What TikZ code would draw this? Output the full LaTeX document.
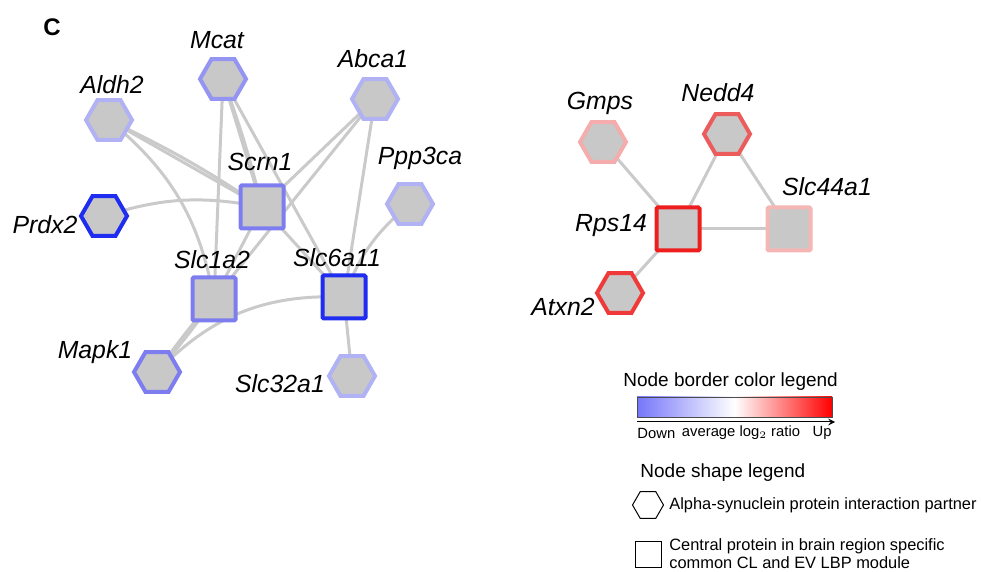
\documentclass[tikz,border=0pt]{standalone}
\usepackage{fontspec}
\setmainfont{Liberation Sans}
\usetikzlibrary{shapes.geometric,backgrounds}
\definecolor{dblue}{RGB}{30,45,240}
\definecolor{mblue}{RGB}{125,125,240}
\definecolor{mlblue}{RGB}{148,148,242}
\definecolor{lblue}{RGB}{176,178,243}
\definecolor{dred}{RGB}{238,30,30}
\definecolor{mred}{RGB}{240,58,58}
\definecolor{nred}{RGB}{236,92,92}
\definecolor{lred}{RGB}{245,172,172}
\definecolor{llred}{RGB}{245,182,182}
\definecolor{nodegray}{RGB}{200,200,200}
\definecolor{edgegray}{RGB}{202,202,202}
\definecolor{barblue}{RGB}{118,118,250}
\begin{document}
\begin{tikzpicture}[>=stealth,x=0.5pt,y=-0.5pt,
	hex/.style={regular polygon,regular polygon sides=6,minimum size=23pt,inner sep=0pt,fill=nodegray,line width=2pt},
	sq/.style={rectangle,minimum size=21.5pt,inner sep=0pt,fill=nodegray,line width=2pt,rounded corners=0.6pt},
	edge/.style={edgegray,line width=1.5pt},
	lab/.style={font=\fontsize{12.4}{14}\selectfont\itshape,inner sep=0pt},
	legtitle/.style={font=\fontsize{9.5}{11}\selectfont,anchor=west,inner sep=0pt},
	legtext/.style={font=\fontsize{8.2}{9}\selectfont,anchor=west,inner sep=0pt,align=left}]
	\useasboundingbox (0,0) rectangle (981,572);
	\node[font=\fontsize{12}{14}\selectfont\bfseries] (panel) at (52,27) {C};
	\foreach \n/\p/\c in {Mcat/{223,79}/mlblue,Abca1/{375,99}/lblue,Aldh2/{109,120}/lblue,
		Ppp3ca/{410,204}/lblue,Prdx2/{104,216}/dblue,Mapk1/{157,372}/mblue,Slc32a1/{352,376}/lblue,
		Gmps/{603,142}/lred,Nedd4/{727,134}/nred,Atxn2/{620,293}/mred}
		\node[hex,draw=\c] (\n) at (\p) {};
	\foreach \n/\p/\c in {Scrn1/{262,207}/mblue,Slc1a2/{214,299}/mblue,Slc6a11/{344,297}/dblue,
		Rps14/{678,229}/dred,Slc44a1/{789,229}/llred}
		\node[sq,draw=\c] (\n) at (\p) {};
	\foreach \n/\p in {Mcat/{217,40},Abca1/{373,59},Aldh2/{112,85},Ppp3ca/{420,158},Prdx2/{45,225},
		Scrn1/{260,162},Slc1a2/{212,260},Slc6a11/{337,258},Mapk1/{95,352},Slc32a1/{280,384},
		Gmps/{600,103},Nedd4/{718,93},Slc44a1/{827,187},Rps14/{611,226},Atxn2/{563,307}}
		\node[lab] (l\n) at (\p) {\n};
	\begin{scope}[on background layer]
		\foreach \a/\b in {Aldh2/Scrn1,Mcat/Scrn1,Mcat/Slc1a2,Mcat/Slc6a11,Abca1/Scrn1,Abca1/Slc1a2,
			Abca1/Slc6a11,Scrn1/Slc1a2,Scrn1/Slc6a11,Slc1a2/Mapk1,Slc6a11/Slc32a1,
			Gmps/Rps14,Nedd4/Rps14,Nedd4/Slc44a1,Rps14/Slc44a1,Rps14/Atxn2}
			\draw[edge] (\a.center)--(\b.center);
		\draw[edge] (Aldh2.center) to[bend left=4] (Scrn1.center);
		\draw[edge] (Mcat.center) to[bend left=3] (Scrn1.center);
		\draw[edge] (Slc1a2.center) to[bend left=3] (Mapk1.center);
		\draw[edge] (Slc1a2.center) to[bend right=3] (Mapk1.center);
		\draw[edge] (Aldh2.center) to[bend left=20] (Slc1a2.center);
		\draw[edge] (Prdx2.center) to[bend left=14] (Scrn1.center);
		\draw[edge] (Ppp3ca.center) to[bend right=15] (Slc6a11.center);
		\draw[edge] (Slc6a11.center) to[bend right=24] (Mapk1.center);
	\end{scope}
	\node[legtitle] (bordertitle) at (623,382) {Node border color legend};
	\shade[left color=barblue,right color=red,middle color=white,draw=black!70,line width=0.3pt]
		(637,397) rectangle (832,417);
	\coordinate (arrs) at (637,422);
	\coordinate (arre) at (835,422);
	\draw[->,line width=0.5pt] (arrs)--(arre);
	\node[font=\fontsize{7.4}{9}\selectfont,anchor=west,inner sep=0pt] (down) at (637,433) {Down};
	\node[font=\fontsize{7.4}{9}\selectfont,inner sep=0pt] (ratio) at (741,433) {average log$_2$ ratio};
	\node[font=\fontsize{7.4}{9}\selectfont,anchor=east,inner sep=0pt] (up) at (832,433) {Up};
	\node[legtitle] (shapetitle) at (640,473) {Node shape legend};
	\node[regular polygon,regular polygon sides=6,minimum size=15.5pt,inner sep=0pt,draw,line width=0.5pt] (leghex) at (648,505) {};
	\node[legtext] (hextext) at (669,505) {Alpha-synuclein protein interaction partner};
	\node[rectangle,minimum size=13pt,inner sep=0pt,draw,line width=0.5pt] (legsq) at (648,554) {};
	\node[legtext] (sqtext) at (669,554) {Central protein in brain region specific\\common CL and EV LBP module};
\end{tikzpicture}
\end{document}
